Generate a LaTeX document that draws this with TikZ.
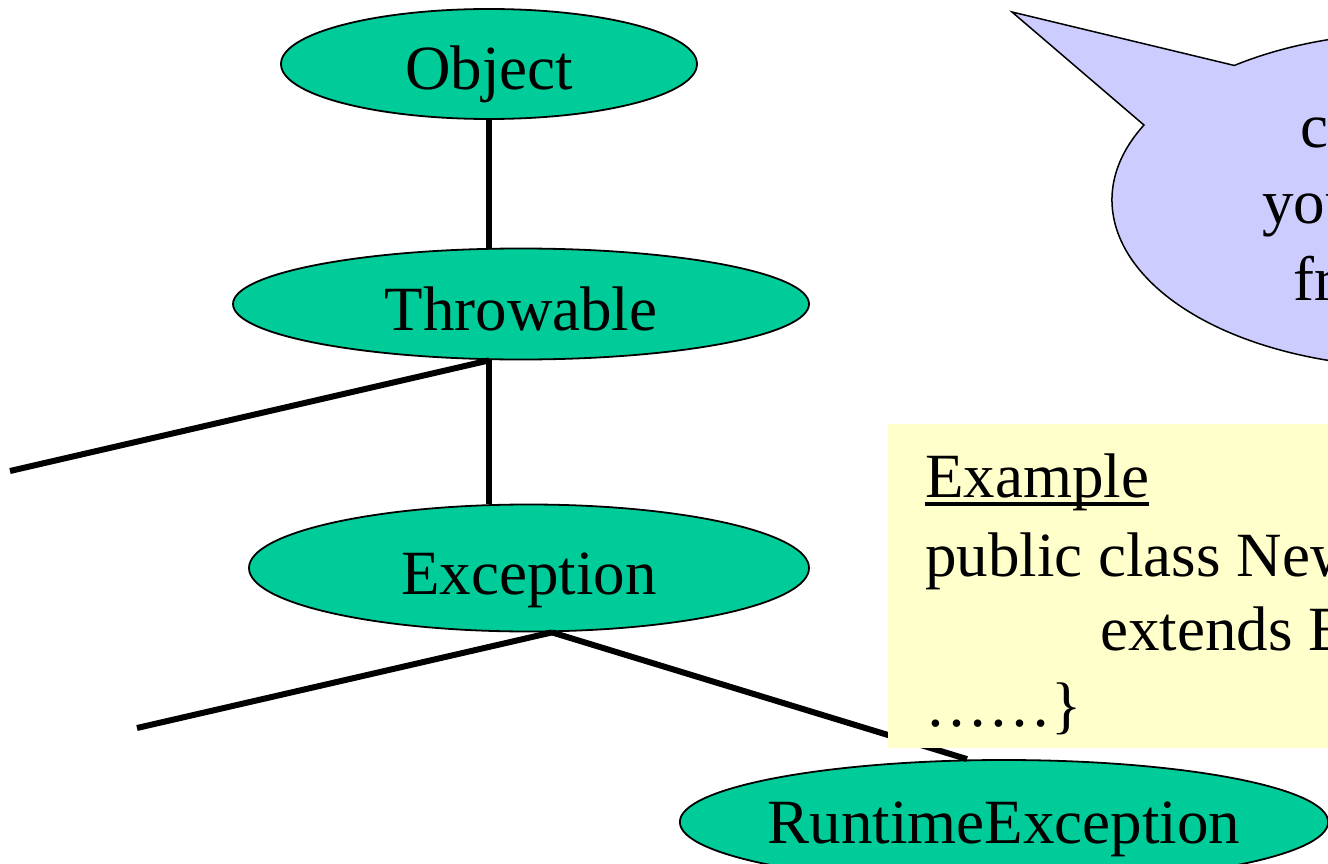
\documentclass[tikz,border=0pt]{standalone}
\usepackage{fontspec}
\setmainfont{Liberation Serif}
\usepackage{xcolor}
\usetikzlibrary{shapes.geometric,shapes.callouts}
\definecolor{clsgreen}{HTML}{00CC99}
\definecolor{bubble}{HTML}{CCCCFF}
\definecolor{note}{HTML}{FFFFCC}

\begin{document}
\begin{tikzpicture}[x=1pt, y=-1pt, font=\fontsize{63}{76}\selectfont,
    cls/.style={draw, ellipse, fill=clsgreen, line width=1.8pt, inner sep=0pt,
                text height=52pt, text depth=0pt},
    link/.style={line width=6pt},
    txt/.style={anchor=base west, inner sep=0pt}]
    \useasboundingbox (0,0) rectangle (1328,864);
    \clip (0,0) rectangle (1328,864);

    % Class tree
    \node[cls, minimum width=416, minimum height=110] (object) at (489,64) {Object};
    \node[cls, minimum width=576, minimum height=111] (throwable) at (521,304) {Throwable};
    \node[cls, minimum width=560, minimum height=127] (exception) at (529,568) {Exception};
    \node[cls, minimum width=646, minimum height=124, inner xsep=-7pt, text height=42pt]
        (runtime) at (1004,822) {RuntimeException};
    \coordinate (lost1) at (10,471);
    \coordinate (lost2) at (137,728);
    \coordinate (exc) at ([xshift=23pt]exception.south);

    \draw[link] (object.south) -- (object.south |- throwable.north);
    \draw[link] (object.south |- throwable.south) -- (object.south |- exception.north);
    \draw[link] (object.south |- throwable.south) -- (lost1);
    \draw[link] (exc) -- (lost2);
    \draw[link] (exc) -- ([xshift=-37pt]runtime.north);

    % Code note
    \node[fill=note, anchor=north west, inner sep=0pt, minimum width=470, minimum height=324] (code) at (888,424) {};
    \node[txt] (ex) at (925,497) {Example};
    \draw[line width=3.5pt] ([yshift=-7pt]ex.base west) -- ([yshift=-7pt]ex.base east);
    \node[txt] (decl) at (925,576) {public class NewException};
    \node[txt] (ext) at (1100,650) {extends Exception};
    \node[txt] (body) at (925,726) {……\}};

    % Speech bubble
    \node[ellipse callout, draw, fill=bubble, line width=1.5pt, inner sep=0pt,
          minimum width=600, minimum height=334,
          callout absolute pointer={(1012,12)}, callout pointer arc=27] (hint) at (1412,200) {};
    \node[txt] (hint1) at (1300,147) {create};
    \node[txt] (hint2) at (1262,223) {your own};
    \node[txt] (hint3) at (1293,300) {from};
\end{tikzpicture}
\end{document}
